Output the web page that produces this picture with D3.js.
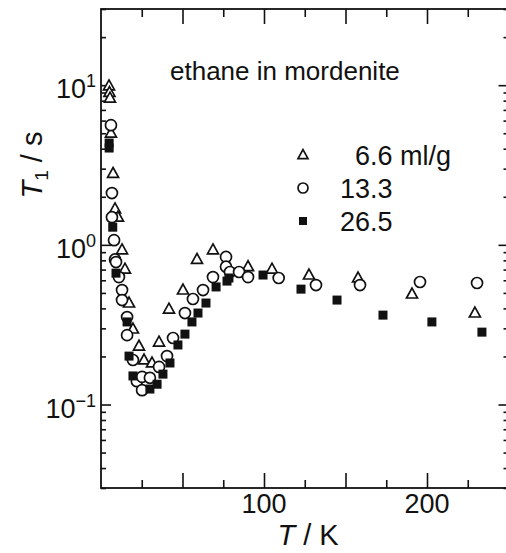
<!DOCTYPE html>
<html>
<head>
<meta charset="utf-8">
<script src="https://cdn.jsdelivr.net/npm/d3@7"></script>
<style>
body { margin: 0; background: #fff; }
text { font-family: "Liberation Sans", Arial, sans-serif; fill: #111; }
</style>
</head>
<body>
<div id="chart"></div>
<script>
//////////////////////////////////////////////////////////////////////////////
// Data: [T / K, T1 / s]

var seriesNames = ["6.6 ml/g", "13.3", "26.5"];

var load66 = [
    [4.9, 9.9], [5.2, 9.0], [5.5, 8.3], [6.1, 5.0], [7.4, 2.8], [8.6, 1.68],
    [10.4, 1.49], [12.9, 0.93], [14.7, 0.705], [17.2, 0.432], [19.6, 0.297],
    [23.3, 0.232], [26.4, 0.19], [31.3, 0.182], [35.6, 0.246], [41.7, 0.396],
    [50.3, 0.521], [58.9, 0.81], [68.7, 0.93], [77.3, 0.75], [90.2, 0.73],
    [104.9, 0.705], [127.6, 0.647], [157.7, 0.62], [190.8, 0.492], [229.4, 0.374]
];

var load133 = [
    [6.1, 5.62], [6.7, 2.11], [6.7, 1.49], [8.0, 1.07], [8.6, 0.81], [9.2, 0.78],
    [11.0, 0.628], [12.9, 0.521], [12.9, 0.451], [16.0, 0.353], [16.0, 0.272],
    [19.6, 0.19], [22.0, 0.14], [25.2, 0.149], [30.0, 0.147], [25.2, 0.123],
    [35.6, 0.172], [40.5, 0.201], [44.2, 0.261], [51.5, 0.374], [56.4, 0.458],
    [62.6, 0.521], [68.7, 0.628], [76.7, 0.84], [76.7, 0.73], [79.1, 0.676],
    [84.7, 0.676], [90.2, 0.628], [109.0, 0.62], [131.9, 0.56], [158.9, 0.56],
    [195.7, 0.585], [230.7, 0.577]
];

var load265 = [
    [5.0, 4.34], [5.0, 4.04], [7.2, 1.29], [9.2, 0.665], [16.0, 0.329],
    [17.2, 0.201], [19.6, 0.151], [30.0, 0.125], [34.4, 0.134], [38.0, 0.155],
    [42.3, 0.182], [47.2, 0.236], [51.5, 0.276], [55.8, 0.329], [59.5, 0.374],
    [64.4, 0.432], [70.6, 0.545], [77.3, 0.593], [78.5, 0.62], [99.4, 0.647],
    [122.7, 0.528], [144.8, 0.451], [173.0, 0.363], [203.0, 0.329], [233.7, 0.284]
];

var xMajor = [50, 100, 150, 200];
var xMinor = [25, 75, 125, 175, 225];
var xLabels = [100, 200];
var yLabels = [0.1, 1, 10];

//////////////////////////////////////////////////////////////////////////////
// Scales, svg

var ink = "#111";

var xScale = d3.scaleLinear().domain([0, 250]).range([101, 508.5]);
var yScale = d3.scaleLog().domain([0.03, 30]).range([488, 9]);

var svg = d3.select("#chart")
    .append("svg")
    .attr("width", 506)
    .attr("height", 553);

var x0 = xScale(0), x1 = xScale(250), y0 = yScale(0.03), y1 = yScale(30);

var yAll = yScale.ticks();
var yMajor = yAll.filter(function(d) { return Math.abs(Math.log10(d) - Math.round(Math.log10(d))) < 1e-9; });
var yMinor = yAll.filter(function(d) { return yMajor.indexOf(d) < 0; });

function tickAxis(axis, values, size, tx, ty)
{
    var g = svg.append("g")
        .attr("transform", "translate(" + tx + "," + ty + ")")
        .call(axis.tickValues(values).tickSize(-size).tickFormat(""));
    g.select(".domain").remove();
    g.selectAll("line").attr("stroke", ink).attr("stroke-width", 1.6);
    return g;
}

// inward ticks on all four sides
tickAxis(d3.axisBottom(xScale), xMajor, 15, 0, y0);
tickAxis(d3.axisBottom(xScale), xMinor, 8, 0, y0);
tickAxis(d3.axisTop(xScale), xMajor, 15, 0, y1);
tickAxis(d3.axisTop(xScale), xMinor, 8, 0, y1);
tickAxis(d3.axisLeft(yScale), yMajor, 10, x0, 0);
tickAxis(d3.axisLeft(yScale), yMinor, 5, x0, 0);
tickAxis(d3.axisRight(yScale), yMajor, 10, x1, 0);
tickAxis(d3.axisRight(yScale), yMinor, 5, x1, 0);

// frame
svg.append("rect")
    .attr("x", x0).attr("y", y1)
    .attr("width", x1 - x0).attr("height", y0 - y1)
    .attr("fill", "none")
    .attr("stroke", ink)
    .attr("stroke-width", 1.8);

// tick labels
svg.append("g").selectAll("text")
    .data(xLabels)
    .enter()
    .append("text")
    .attr("x", function(d) { return xScale(d); })
    .attr("y", y0 + 25)
    .attr("text-anchor", "middle")
    .attr("font-size", 27)
    .text(function(d) { return d; });

var yl = svg.append("g").selectAll("text")
    .data(yLabels)
    .enter()
    .append("text")
    .attr("x", x0 - 5)
    .attr("y", function(d) { return yScale(d) + 13; })
    .attr("text-anchor", "end")
    .attr("font-size", 27);
yl.append("tspan").text("10");
yl.append("tspan")
    .attr("dy", -11)
    .attr("font-size", 18)
    .text(function(d) { var e = Math.round(Math.log10(d)); return e < 0 ? "\u2212" + (-e) : e; });

// axis titles
var xt = svg.append("text")
    .attr("x", 308).attr("y", 545)
    .attr("text-anchor", "middle")
    .attr("font-size", 29);
xt.append("tspan").attr("font-style", "italic").text("T");
xt.append("tspan").text(" / K");

var yt = svg.append("text")
    .attr("transform", "translate(42,165) rotate(-90)")
    .attr("text-anchor", "middle")
    .attr("font-size", 29);
yt.append("tspan").attr("font-style", "italic").text("T");
yt.append("tspan").attr("font-size", 19).attr("dy", 6).text("1");
yt.append("tspan").attr("dy", -6).text(" / s");

svg.append("text")
    .attr("x", 170).attr("y", 80)
    .attr("font-size", 26)
    .text("ethane in mordenite");

//////////////////////////////////////////////////////////////////////////////
// Markers

function triPath(s) {
    var h = s * 0.9;
    return "M0," + (-h * 0.6) + "L" + (s / 2) + "," + (h * 0.4) + "L" + (-s / 2) + "," + (h * 0.4) + "Z";
}

function drawTriangles(sel, s) {
    return sel.append("path").attr("d", triPath(s))
        .attr("fill", "#fff").attr("stroke", ink).attr("stroke-width", 1.7);
}
function drawCircles(sel, s) {
    return sel.append("circle").attr("r", s / 2)
        .attr("fill", "#fff").attr("stroke", ink).attr("stroke-width", 1.7);
}
function drawSquares(sel, s) {
    return sel.append("rect").attr("x", -s / 2).attr("y", -s / 2)
        .attr("width", s).attr("height", s).attr("fill", ink);
}

var markers = [drawTriangles, drawCircles, drawSquares];
var sizes = [11, 11, 9];

[load66, load133, load265].forEach(function(data, i) {
    var g = svg.append("g")
        .selectAll("g")
        .data(data)
        .enter()
        .append("g")
        .attr("transform", function(d) {
            return "translate(" + xScale(d[0]) + "," + yScale(d[1]) + ")";
        });
    markers[i](g, sizes[i]);
});

// legend
var legend = svg.append("g")
    .selectAll("g")
    .data(seriesNames)
    .enter()
    .append("g")
    .attr("transform", function(d, i) { return "translate(303," + (155 + i * 33) + ")"; });

legend.each(function(d, i) {
    markers[i](d3.select(this), [10, 10, 8][i]);
});

legend.append("text")
    .attr("x", 37)
    .attr("y", 10)
    .attr("font-size", 27)
    .attr("dx", function(d) { return d.indexOf(".") === 1 ? 15 : 0; })
    .text(function(d) { return d; });
</script>
</body>
</html>
